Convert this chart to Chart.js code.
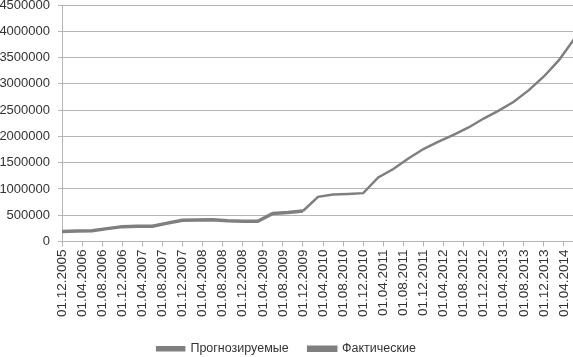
<!DOCTYPE html>
<html>
<head>
<meta charset="utf-8">
<script src="https://cdn.jsdelivr.net/npm/chart.js@4"></script>
<style>
  html, body { margin: 0; padding: 0; background: #fff; }
  #wrap { width: 573px; height: 357px; }
</style>
</head>
<body>
<div id="wrap"><canvas id="c"></canvas></div>
<script>
const tickLabels = ['01.12.2005','01.04.2006','01.08.2006','01.12.2006','01.04.2007','01.08.2007','01.12.2007','01.04.2008','01.08.2008','01.12.2008','01.04.2009','01.08.2009','01.12.2009','01.04.2010','01.08.2010','01.12.2010','01.04.2011','01.08.2011','01.12.2011','01.04.2012','01.08.2012','01.12.2012','01.04.2013','01.08.2013','01.12.2013','01.04.2014'];
const seriesNames = ['Прогнозируемые', 'Фактические'];
// month offsets from 01.12.2005
const actualMonths = [0,3,6,9,12,15,18,21,24,27,30,33,36,39,42,45,48];
const actualValues = [190000,200000,205000,245000,283000,288000,292000,350000,405000,410000,415000,395000,385000,385000,535000,550000,580000];
const forecastMonths = [48,51,54,57,60,63,66,69,72,75,78,81,84,87,90,93,96,99,102];
const forecastValues = [580000,850000,895000,905000,920000,1220000,1380000,1580000,1760000,1900000,2030000,2170000,2340000,2490000,2660000,2880000,3140000,3450000,3850000];
const yTicks = [0,500000,1000000,1500000,2000000,2500000,3000000,3500000,4000000,4500000];

const toPts = (ms, vs) => ms.map((m, i) => ({x: m, y: vs[i]}));
const grey = '#7f7f7f';
const txt = '#333';

new Chart(document.getElementById('c'), {
  type: 'line',
  data: {
    datasets: [
      { label: seriesNames[0], data: toPts(forecastMonths, forecastValues), borderColor: grey, backgroundColor: grey, borderWidth: 2.5, pointRadius: 0, tension: 0 },
      { label: seriesNames[1], data: toPts(actualMonths, actualValues), borderColor: grey, backgroundColor: grey, borderWidth: 3.5, pointRadius: 0, tension: 0 }
    ]
  },
  options: {
    responsive: true,
    maintainAspectRatio: false,
    animation: false,
    layout: { padding: { top: 5, right: 0, left: 0, bottom: -8 } },
    plugins: {
      tooltip: { enabled: false },
      legend: {
        position: 'bottom',
        labels: { boxWidth: 27, boxHeight: 3, color: txt, font: { family: 'Liberation Sans', size: 12.5 }, padding: 20 }
      }
    },
    scales: {
      x: {
        type: 'linear',
        min: 0, max: 101.8,
        afterBuildTicks: (s) => { s.ticks = tickLabels.map((t, i) => ({ value: i * 4 })); },
        afterFit: (s) => { s.height = 81; s.paddingLeft = 0; s.paddingRight = 0; },
        ticks: {
          autoSkip: false, maxRotation: 90, minRotation: 90, padding: 3,
          color: txt, font: { family: 'Liberation Sans', size: 13.5 },
          callback: (v) => tickLabels[Math.round(v / 4)]
        },
        grid: { drawOnChartArea: false, drawTicks: true, tickLength: 5, color: '#b5b5b5' },
        border: { color: '#b5b5b5' }
      },
      y: {
        min: 0, max: 4500000,
        afterBuildTicks: (s) => { s.ticks = yTicks.map(v => ({ value: v })); },
        afterFit: (s) => { s.width = 62; s.paddingTop = 0; s.paddingBottom = 0; },
        ticks: { color: txt, font: { family: 'Liberation Sans', size: 13 }, padding: 8, callback: (v) => String(v) },
        grid: { color: '#b5b5b5', tickLength: 4 },
        border: { color: '#b5b5b5' }
      }
    }
  }
});
</script>
</body>
</html>
